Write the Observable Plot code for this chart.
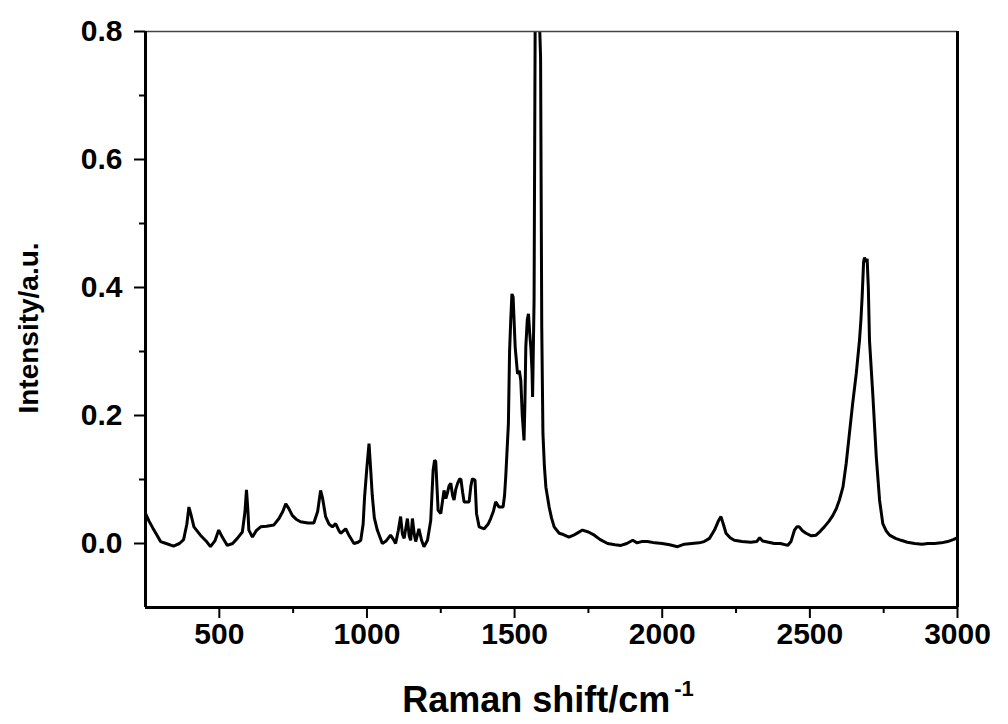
<!DOCTYPE html>
<html><head><meta charset="utf-8">
<script src="https://cdn.jsdelivr.net/npm/d3@7"></script>
<script src="https://cdn.jsdelivr.net/npm/@observablehq/plot@0.6"></script>
<style>body{margin:0;background:#fff}</style>
</head><body><div id="chart"></div>
<script>
const ramanShift = [250,262,275,290,301,320,345,365,379,390,397,404,414,436,455,470,485,498,510,527,545,561,578,587,592,597,600,612,625,640,660,685,702,715,725,735,747,760,775,800,820,833,843,850,860,872,883,894,905,911,928,940,956,970,979,987,992,1000,1007,1012,1018,1025,1035,1052,1065,1080,1090,1097,1106,1114,1120,1126,1137,1143,1148,1154,1160,1165,1176,1185,1193,1205,1216,1224,1229,1233,1241,1250,1261,1267,1272,1278,1284,1290,1295,1301,1307,1313,1318,1324,1329,1346,1352,1357,1366,1371,1380,1397,1410,1419,1428,1436,1447,1461,1466,1470,1479,1483,1487,1491,1495,1502,1510,1516,1521,1526,1532,1535,1538,1543,1547,1551,1555,1559,1561,1564,1566,1570,1577,1584,1588,1592,1596,1601,1606,1617,1625,1634,1651,1665,1684,1700,1715,1730,1750,1770,1790,1815,1840,1860,1880,1900,1915,1930,1950,1975,2000,2025,2052,2075,2100,2125,2142,2160,2177,2190,2199,2207,2216,2230,2244,2270,2300,2320,2330,2340,2360,2380,2400,2425,2436,2448,2456,2464,2475,2487,2505,2521,2535,2549,2565,2578,2590,2600,2612,2623,2634,2645,2657,2668,2673,2677,2682,2685,2690,2694,2698,2702,2713,2725,2736,2747,2758,2770,2790,2809,2830,2855,2880,2900,2922,2945,2967,2985,2995,3000];
const intensity = [0.047,0.035,0.024,0.012,0.003,0.0,-0.004,0.0,0.006,0.03,0.057,0.045,0.026,0.013,0.004,-0.005,0.004,0.021,0.01,-0.003,0.0,0.008,0.018,0.05,0.084,0.05,0.021,0.01,0.02,0.026,0.027,0.029,0.039,0.05,0.062,0.055,0.044,0.038,0.034,0.032,0.032,0.05,0.083,0.07,0.042,0.03,0.026,0.031,0.02,0.016,0.023,0.012,0.0,0.002,0.005,0.03,0.073,0.12,0.156,0.12,0.075,0.04,0.021,0.0,0.004,0.013,0.006,0.0,0.02,0.042,0.015,0.008,0.039,0.012,0.005,0.039,0.015,0.003,0.023,0.005,-0.005,0.005,0.036,0.114,0.13,0.128,0.052,0.047,0.083,0.07,0.078,0.09,0.094,0.075,0.068,0.085,0.094,0.1,0.101,0.08,0.065,0.065,0.09,0.101,0.099,0.047,0.026,0.023,0.03,0.039,0.05,0.065,0.057,0.057,0.075,0.104,0.187,0.3,0.349,0.39,0.385,0.307,0.265,0.27,0.255,0.2,0.161,0.22,0.307,0.35,0.359,0.33,0.307,0.27,0.229,0.32,0.38,0.85,0.87,0.82,0.76,0.338,0.172,0.12,0.088,0.057,0.04,0.026,0.016,0.014,0.010,0.013,0.017,0.021,0.018,0.013,0.006,0.0,-0.002,-0.003,0.0,0.005,0.001,0.003,0.003,0.001,0.0,-0.002,-0.005,-0.001,0.0,0.001,0.003,0.008,0.021,0.035,0.042,0.03,0.016,0.009,0.005,0.003,0.002,0.003,0.009,0.004,0.002,0.0,0.0,-0.003,0.003,0.021,0.026,0.026,0.02,0.016,0.012,0.013,0.019,0.026,0.035,0.044,0.055,0.068,0.088,0.125,0.172,0.219,0.265,0.317,0.35,0.385,0.44,0.447,0.44,0.445,0.4,0.317,0.234,0.135,0.068,0.031,0.02,0.013,0.008,0.005,0.002,0.0,-0.001,0.0,0.0,0.001,0.003,0.006,0.008,0.009];
const xMajorTicks = [500, 1000, 1500, 2000, 2500, 3000];
const xMinorTicks = [750, 1250, 1750, 2250, 2750];
const yMajorTicks = [0, 0.2, 0.4, 0.6, 0.8];
const yMinorTicks = [0.1, 0.3, 0.5, 0.7];
const xTitle = "Raman shift/cm";
const xTitleSup = "-1";
const yTitle = "Intensity/a.u.";

const data = ramanShift.map((x, i) => ({x, y: intensity[i]}));

const chart = Plot.plot({
  width: 1008, height: 724,
  marginTop: 31, marginBottom: 117, marginLeft: 145, marginRight: 51,
  style: {fontFamily: "'Liberation Sans', Arial, sans-serif", fontSize: "30px", fontWeight: "bold", background: "#fff", color: "#000"},
  x: {domain: [250, 3000]},
  y: {domain: [-0.1, 0.8]},
  marks: [
    Plot.line(data, {x: "x", y: "y", stroke: "#000", strokeWidth: 3, strokeLinejoin: "miter", clip: true}),
    Plot.axisX({ticks: xMajorTicks, tickSize: 11, tickPadding: 4, strokeWidth: 2, label: null, tickFormat: d => String(d)}),
    Plot.axisX({ticks: xMinorTicks, tickSize: 6, strokeWidth: 2, label: null, tickFormat: () => ""}),
    Plot.axisY({ticks: yMajorTicks, tickSize: 11, tickPadding: 12, strokeWidth: 2, label: null, tickFormat: d3.format(".1f")}),
    Plot.axisY({ticks: yMinorTicks, tickSize: 6, strokeWidth: 2, label: null, tickFormat: () => ""}),
    Plot.ruleY([0.8], {stroke: "#444", strokeWidth: 1.5}),
    Plot.ruleX([250], {stroke: "#000", strokeWidth: 3}),
    Plot.ruleX([3000], {stroke: "#000", strokeWidth: 3}),
    Plot.ruleY([-0.1], {stroke: "#000", strokeWidth: 3})
  ]
});

const svg = d3.select(chart);
svg.selectAll("text").filter(function() { return this.textContent === ""; }).remove();

const xr = chart.scale("x").range;
const yr = chart.scale("y").range;
const xMid = (xr[0] + xr[1]) / 2;
const yMid = (yr[0] + yr[1]) / 2;

const xt = svg.append("text")
  .attr("x", xMid - 3).attr("y", yr[0] + 105)
  .attr("text-anchor", "middle")
  .attr("font-size", 36).attr("font-weight", "bold")
  .attr("fill", "#000");
xt.append("tspan").text(xTitle);
xt.append("tspan").attr("font-size", 22).attr("dx", 4).attr("dy", -16).text(xTitleSup);

svg.append("text")
  .attr("transform", `translate(38,${yMid + 9}) rotate(-90)`)
  .attr("text-anchor", "middle")
  .attr("font-size", 28).attr("font-weight", "bold")
  .attr("fill", "#000")
  .text(yTitle);

document.getElementById("chart").append(chart);
</script>
</body></html>
